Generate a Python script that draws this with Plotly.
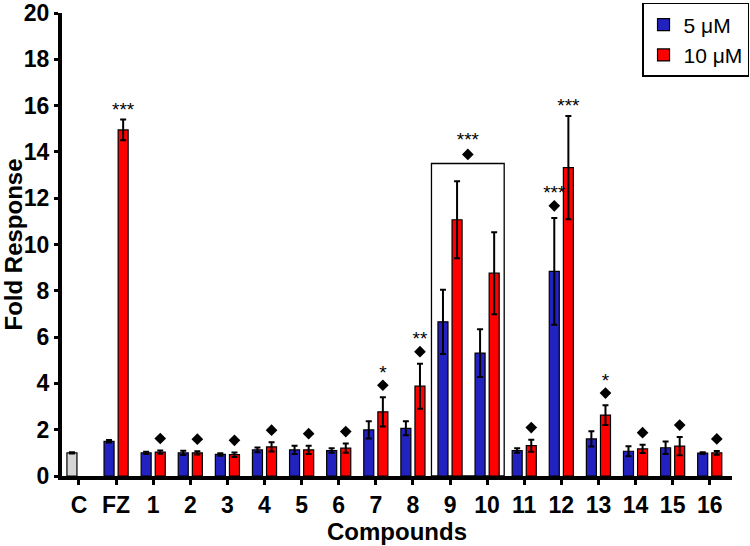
import plotly.graph_objects as go

# ---------------- data ----------------
categories = ["C", "FZ", "1", "2", "3", "4", "5", "6", "7", "8", "9", "10",
              "11", "12", "13", "14", "15", "16"]

control_val = [1.00]
control_err = [0.03]

treated = categories[1:]
blue_vals = [1.50, 1.00, 1.00, 0.93, 1.13, 1.13, 1.10, 1.99, 2.06, 6.66, 5.31,
             1.10, 8.84, 1.60, 1.07, 1.22, 0.99]
blue_err = [0.05, 0.05, 0.09, 0.05, 0.10, 0.18, 0.10, 0.37, 0.30, 1.39, 1.03,
            0.10, 2.31, 0.33, 0.22, 0.27, 0.04]
red_vals = [14.95, 1.03, 1.00, 0.92, 1.26, 1.13, 1.20, 2.77, 3.88, 11.07, 8.76,
            1.31, 13.32, 2.63, 1.17, 1.29, 1.00]
red_err = [0.45, 0.07, 0.07, 0.10, 0.20, 0.18, 0.20, 0.63, 0.97, 1.66, 1.77,
           0.26, 2.23, 0.43, 0.18, 0.39, 0.08]

# significance markers (per treated category)
red_stars = ["***", "", "", "", "", "", "", "*", "**", "", "", "", "***", "*", "", "", ""]
red_diamond = [0, 1, 1, 1, 1, 1, 1, 1, 1, 0, 0, 1, 0, 1, 1, 1, 1]
blue_stars = ["", "", "", "", "", "", "", "", "", "", "", "", "***", "", "", "", ""]
blue_diamond = [0, 0, 0, 0, 0, 0, 0, 0, 0, 0, 0, 0, 1, 0, 0, 0, 0]
bracket_group = ["9", "10"]
bracket_stars = "***"

series_names = ["5 \u03bcM", "10 \u03bcM"]
tick_vals_y = list(range(0, 21, 2))

# ---------------- styling ----------------
FONT = "Arial, Liberation Sans, sans-serif"
BLUE = "#2222C0"
RED = "#FF0000"
GRAY = "#D6D6D6"
BAR_W = 0.27
OFF = 0.19
PAD_D = 0.52   # gap from error-bar top to diamond
PAD_S_D = 0.68  # gap from diamond to stars
PAD_S = 0.57   # gap from error-bar top to stars (no diamond)
STAR_SHIFT = 0.2

idx = {c: i for i, c in enumerate(categories)}
tx = [idx[c] for c in treated]

fig = go.Figure()

err_style = dict(type="data", symmetric=True, color="black", thickness=2, width=3)

fig.add_trace(go.Bar(
    x=[idx["C"]], y=control_val, width=BAR_W, offset=-OFF - BAR_W / 2,
    marker=dict(color=GRAY, line=dict(color="black", width=1.2)),
    error_y=dict(array=control_err, **err_style), showlegend=False, name="Control"))

fig.add_trace(go.Bar(
    x=tx, y=blue_vals, width=BAR_W, offset=-OFF - BAR_W / 2, name=series_names[0],
    marker=dict(color=BLUE, line=dict(color="black", width=1.2)),
    error_y=dict(array=blue_err, **err_style)))

fig.add_trace(go.Bar(
    x=tx, y=red_vals, width=BAR_W, offset=OFF - BAR_W / 2, name=series_names[1],
    marker=dict(color=RED, line=dict(color="black", width=1.2)),
    error_y=dict(array=red_err, **err_style)))

# significance markers
dx, dy, sx, sy, st = [], [], [], [], []
for xs, vals, errs, stars, dia, sign in [
        (tx, blue_vals, blue_err, blue_stars, blue_diamond, -1),
        (tx, red_vals, red_err, red_stars, red_diamond, 1)]:
    for x, v, e, s, d in zip(xs, vals, errs, stars, dia):
        top = v + e
        xp = x + sign * OFF
        if d:
            ydia = top + PAD_D
            dx.append(xp); dy.append(ydia)
            if s:
                sx.append(xp); sy.append(ydia + PAD_S_D - STAR_SHIFT); st.append(s)
        elif s:
            sx.append(xp); sy.append(top + PAD_S - STAR_SHIFT); st.append(s)

# bracket around compounds 9 and 10
b_idx = [idx[c] for c in bracket_group]
b_top = max(max(blue_vals[treated.index(c)] + blue_err[treated.index(c)],
                red_vals[treated.index(c)] + red_err[treated.index(c)]) for c in bracket_group) + 0.77
b_x0 = min(b_idx) - 0.5
b_x1 = max(b_idx) + 0.46
fig.add_shape(type="rect", xref="x", yref="y", x0=b_x0, x1=b_x1, y0=0, y1=b_top,
              line=dict(color="black", width=1.3), fillcolor="rgba(0,0,0,0)", layer="below")
bx = (b_x0 + b_x1) / 2
dx.append(bx); dy.append(b_top + 0.39)
sx.append(bx); sy.append(b_top + 0.39 + 0.78 - STAR_SHIFT); st.append(bracket_stars)

fig.add_trace(go.Scatter(x=dx, y=dy, mode="markers", showlegend=False, hoverinfo="skip",
                         marker=dict(symbol="diamond", size=9, color="black")))
fig.add_trace(go.Scatter(x=sx, y=sy, mode="text", text=st, showlegend=False, hoverinfo="skip",
                         textposition="middle center",
                         textfont=dict(family=FONT, size=19, color="black")))

fig.update_layout(
    width=750, height=546,
    margin=dict(l=62, r=18, t=13, b=70, autoexpand=False),
    paper_bgcolor="white", plot_bgcolor="white",
    barmode="overlay",
    font=dict(family=FONT, color="black"),
    legend=dict(x=1.0254, xanchor="right", y=1.0216, yanchor="top",
                bordercolor="black", borderwidth=1.5, bgcolor="white",
                font=dict(family=FONT, size=21, color="black"),
                tracegroupgap=0, itemwidth=30),
)

fig.update_xaxes(
    automargin=False, ticklabeloverflow="allow",
    range=[-0.458, 17.6], tickmode="array", tickvals=list(range(len(categories))),
    ticktext=[f"<b>{c}</b>" for c in categories],
    tickfont=dict(family=FONT, size=23, color="black"),
    showline=True, linecolor="black", linewidth=4,
    ticks="outside", ticklen=5, tickwidth=3, tickcolor="black",
    showgrid=False, zeroline=False,
    title=dict(text="<b>Compounds</b>", font=dict(family=FONT, size=24, color="black"), standoff=8),
)
fig.update_yaxes(
    automargin=False, ticklabeloverflow="allow",
    range=[0, 20], tickmode="array", tickvals=tick_vals_y,
    ticktext=[f"<b>{v}</b>" for v in tick_vals_y],
    tickfont=dict(family=FONT, size=23, color="black"),
    showline=True, linecolor="black", linewidth=4,
    ticks="outside", ticklen=4, tickwidth=3, tickcolor="black",
    showgrid=False, zeroline=False,
    title=dict(text="<b>Fold Response</b>", font=dict(family=FONT, size=24, color="black"), standoff=4),
)

fig.write_html("out.html", config={"displayModeBar": False},
               post_script="document.body.style.margin='0';")
